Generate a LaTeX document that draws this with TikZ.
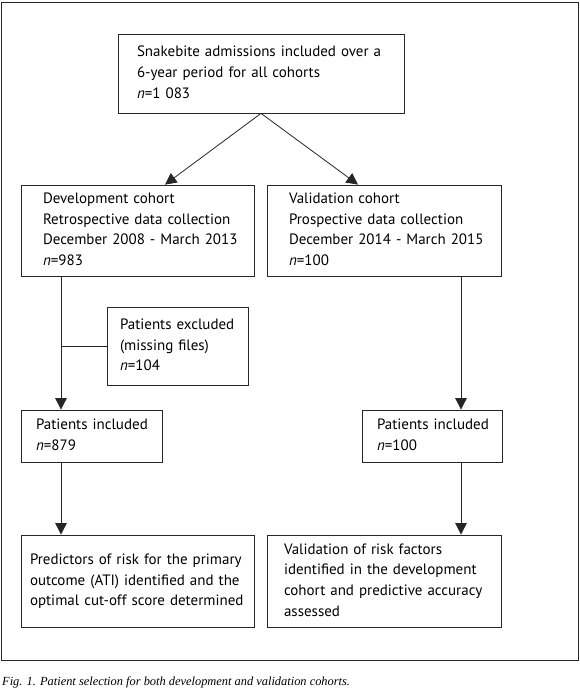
\documentclass[tikz,border=0pt]{standalone}
\usepackage{fontspec}
\setmainfont{PT Sans}
\newfontfamily\capfont{Liberation Serif}
\usetikzlibrary{arrows.meta, positioning, calc}

\newcommand{\boxfont}{\fontsize{15}{20.7}\selectfont}
% left padding, then the lines of a box
\newcommand{\padlines}[2]{\hspace*{#1}\begin{tabular}{@{}l@{}}#2\end{tabular}}

\begin{document}
\begin{tikzpicture}[
    x=1pt, y=-1pt,
    box/.style={draw=black!85, line width=0.8pt, align=left,
                inner xsep=4pt, inner ysep=0pt, font=\boxfont},
    arr/.style={-{Triangle[length=11.5pt,width=11.5pt]}, line width=0.8pt, black!85}
  ]
  \useasboundingbox (0,0) rectangle (580,698);
  % outer frame
  \draw[black!85, line width=0.8pt] (1,2) rectangle (578,660);

  \node[box, text width=278pt, minimum height=79pt] (adm) at (261,73.5)
    {\padlines{15pt}{Snakebite admissions included over a\\ 6-year period for all cohorts\\ \textit{n}=1~083}};
  \node[box, text width=225pt, minimum height=91pt] (dev) at (137.5,230.5)
    {\padlines{18pt}{Development cohort\\ Retrospective data collection\\ December 2008 - March 2013\\ \textit{n}=983}};
  \node[box, text width=226pt, minimum height=91pt] (val) at (384,230.5)
    {\padlines{18pt}{Validation cohort\\ Prospective data collection\\ December 2014 - March 2015\\ \textit{n}=100}};
  \node[box, text width=133pt, minimum height=78pt] (excl) at (177.5,346)
    {\padlines{9pt}{Patients excluded\\ (missing files)\\ \textit{n}=104}};
  \node[box, text width=133pt, minimum height=52pt] (inclL) at (91.5,436)
    {\padlines{11pt}{Patients included\\ \textit{n}=879}};
  \node[box, text width=132pt, minimum height=52pt] (inclR) at (432,436)
    {\padlines{11pt}{Patients included\\ \textit{n}=100}};
  \node[box, text width=225pt, minimum height=92pt] (pred) at (137.5,581)
    {\padlines{5pt}{Predictors of risk for the primary\\ outcome (ATI) identified and the\\ optimal cut-off score determined}};
  \node[box, text width=226pt, minimum height=92pt] (valid) at (384,581)
    {\padlines{13pt}{Validation of risk factors\\ identified in the development\\ cohort and predictive accuracy\\ assessed}};

  \coordinate (devline) at ([xshift=-76.5pt]dev.south);
  \coordinate (valline) at ([xshift=77pt]val.south);

  \draw[arr] (adm.south) -- ([xshift=27.5pt]dev.north);
  \draw[arr] (adm.south) -- ([xshift=-26pt]val.north);
  \draw[arr] (devline) -- (devline |- inclL.north);
  \draw[line width=0.8pt, black!85] (devline |- excl.west) -- (excl.west);
  \draw[arr] (valline) -- (valline |- inclR.north);
  \draw[arr] (devline |- inclL.south) -- (devline |- pred.north);
  \draw[arr] (valline |- inclR.south) -- (valline |- valid.north);

  \node[anchor=west, inner sep=0pt, font=\capfont\itshape\fontsize{12.4}{14}\selectfont] (cap) at (2,682)
    {Fig. 1. Patient selection for both development and validation cohorts.};
\end{tikzpicture}
\end{document}
